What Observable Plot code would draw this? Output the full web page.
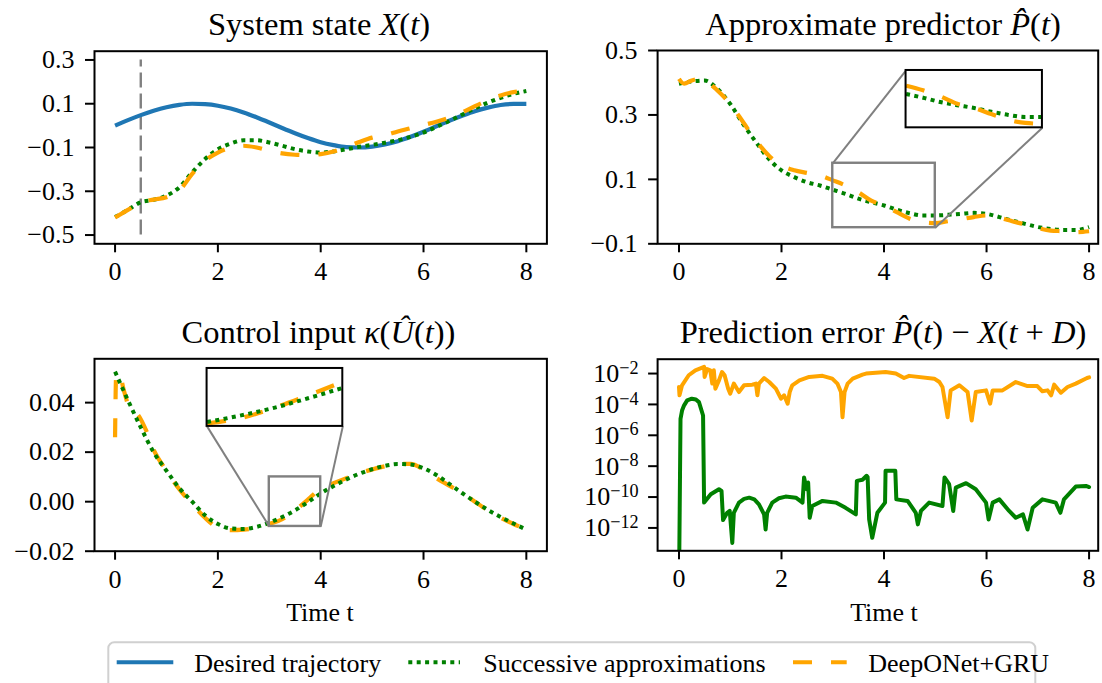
<!DOCTYPE html>
<html><head><meta charset="utf-8">
<script src="https://cdn.jsdelivr.net/npm/d3@7"></script>
<script src="https://cdn.jsdelivr.net/npm/@observablehq/plot@0.6"></script>
<style>
body{margin:0;background:#fff;}
#wrap{position:relative;width:1102px;height:683px;overflow:hidden;background:#fff;font-family:"Liberation Serif",serif;}
#wrap svg{position:absolute;}
#wrap svg text{font-family:"Liberation Serif","Times New Roman",serif !important;}
</style></head><body><div id="wrap"></div>
<script>
// ---------- data ----------
const tGrid = [0,0.25,0.5,0.75,1,1.25,1.5,1.75,2,2.25,2.5,2.75,3,3.25,3.5,3.75,4,4.25,4.5,4.75,5,5.25,5.5,5.75,6,6.25,6.5,6.75,7,7.25,7.5,7.75,8];
const xTicks = [0,2,4,6,8];

// Panel 1: system state X(t)
const p1Desired = [0,0.025,0.048,0.068,0.084,0.095,0.100,0.098,0.091,0.078,0.060,0.038,0.014,-0.011,-0.035,-0.057,-0.076,-0.089,-0.098,-0.100,-0.096,-0.086,-0.071,-0.051,-0.028,-0.003,0.022,0.045,0.066,0.082,0.094,0.099,0.099];
const p1Succ = [-0.418,-0.385,-0.350,-0.339,-0.320,-0.282,-0.214,-0.153,-0.108,-0.082,-0.067,-0.067,-0.077,-0.092,-0.108,-0.118,-0.123,-0.118,-0.108,-0.097,-0.088,-0.078,-0.067,-0.051,-0.032,-0.006,0.021,0.050,0.079,0.105,0.127,0.145,0.158];
const p1Deep = [-0.420,-0.385,-0.350,-0.338,-0.327,-0.297,-0.221,-0.160,-0.123,-0.100,-0.092,-0.100,-0.115,-0.127,-0.133,-0.135,-0.130,-0.118,-0.098,-0.075,-0.055,-0.044,-0.027,-0.012,0.003,0.018,0.036,0.060,0.089,0.115,0.138,0.153,0.161];
const p1Delay = [0.5];
const p1YTicks = [0.3,0.1,-0.1,-0.3,-0.5];

// Panel 2: approximate predictor
const p2Succ = [0.397,0.404,0.407,0.381,0.334,0.272,0.216,0.164,0.128,0.107,0.091,0.081,0.068,0.055,0.040,0.029,0.019,0.006,-0.005,-0.012,-0.012,-0.010,-0.007,-0.004,-0.007,-0.017,-0.028,-0.038,-0.048,-0.054,-0.057,-0.057,-0.048];
const tDeep2 = [0,0.1,0.25,0.4,0.5,0.75,1,1.25,1.5,1.75,2,2.25,2.5,2.75,3,3.25,3.5,3.75,4,4.25,4.5,4.75,5,5.25,5.5,5.75,6,6.25,6.5,6.75,7,7.25,7.5,7.75,8];
const p2Deep = [0.412,0.397,0.407,0.412,0.407,0.376,0.334,0.278,0.221,0.174,0.143,0.128,0.120,0.112,0.097,0.081,0.060,0.034,0.019,-0.002,-0.022,-0.033,-0.036,-0.030,-0.024,-0.017,-0.012,-0.019,-0.030,-0.040,-0.051,-0.059,-0.061,-0.064,-0.061];
const p2YTicks = [0.5,0.3,0.1,-0.1];
const p2ZoomX = [3,5], p2ZoomY = [-0.05,0.15];
const p2InsetX = [4.43,7.09], p2InsetY = [0.26,0.438];

// Panel 3: control input
const p3Succ = [0.0525,0.041,0.030,0.020,0.0125,0.0055,0.0,-0.0055,-0.009,-0.0108,-0.011,-0.0102,-0.0085,-0.0062,-0.0035,-0.0002,0.0033,0.0063,0.009,0.0113,0.0131,0.0145,0.0152,0.015,0.0135,0.0108,0.0072,0.0035,0.0,-0.0033,-0.0062,-0.0088,-0.0113];
const tDeep3 = [0,0.02,0.08,0.17,0.3,0.45,0.6,0.75,1,1.25,1.5,1.75,2,2.25,2.5,2.75,3,3.25,3.5,3.75,4,4.25,4.5,4.75,5,5.25,5.5,5.75,6,6.25,6.5,6.75,7,7.25,7.5,7.75,8];
const p3Deep = [0.026,0.050,0.052,0.045,0.037,0.035,0.029,0.021,0.0125,0.005,-0.001,-0.0065,-0.0105,-0.0115,-0.0113,-0.0105,-0.009,-0.0071,-0.0035,0.0008,0.0054,0.0075,0.0095,0.0115,0.013,0.0143,0.0152,0.0153,0.013,0.0095,0.0065,0.0035,0.0,-0.0035,-0.0065,-0.009,-0.0112];
const p3YTicks = [0.04,0.02,0.0,-0.02];
const p3ZoomX = [3,4], p3ZoomY = [-0.01,0.01];
const p3InsetX = [1.79,4.43], p3InsetY = [0.0304,0.0538];

// Panel 4: prediction error (log10 of |error|)
const tErrSucc = [0,0.03,0.06,0.1,0.16,0.25,0.33,0.39,0.47,0.49,0.62,0.78,0.83,0.86,0.94,0.99,1.04,1.07,1.17,1.27,1.37,1.47,1.56,1.66,1.69,1.72,1.82,1.95,2.08,2.28,2.41,2.44,2.49,2.52,2.55,2.6,2.8,3.06,3.25,3.45,3.47,3.58,3.66,3.68,3.71,3.77,3.87,4.02,4.03,4.22,4.24,4.46,4.62,4.66,4.72,4.88,5.14,5.18,5.27,5.35,5.4,5.6,5.79,5.99,6.04,6.12,6.25,6.44,6.57,6.71,6.8,6.9,7.09,7.35,7.44,7.51,7.74,7.94,8];
const errSuccLog10 = [-16,-4.93,-4.4,-4.06,-3.74,-3.63,-3.68,-3.85,-4.72,-10.36,-9.82,-9.49,-9.6,-11.49,-11.02,-10.9,-12.97,-11.02,-10.36,-10.12,-10.04,-10.15,-10.47,-11.12,-12.1,-11.02,-10.36,-10.08,-9.97,-10.04,-10.36,-8.73,-9.49,-9.06,-11.34,-10.58,-10.25,-10.36,-10.7,-11.12,-8.95,-8.88,-8.62,-8.7,-11.45,-12.64,-11.02,-10.36,-8.3,-8.3,-10.15,-10.25,-11.02,-11.77,-10.9,-10.36,-10.58,-8.73,-9.17,-10.9,-9.39,-9.1,-9.49,-10.36,-11.45,-10.36,-10.15,-10.9,-11.34,-11.12,-12.1,-10.69,-10.15,-10.36,-11.02,-10.15,-9.32,-9.28,-9.35];
const tErrDeep = [0,0.01,0.06,0.19,0.32,0.49,0.5,0.55,0.61,0.65,0.68,0.71,0.78,0.84,0.89,0.96,1.0,1.07,1.17,1.27,1.43,1.5,1.53,1.56,1.66,1.76,1.89,1.99,2.05,2.12,2.16,2.21,2.35,2.54,2.8,2.99,3.09,3.16,3.19,3.23,3.29,3.39,3.58,3.65,4.03,4.23,4.39,4.49,4.98,5.08,5.14,5.24,5.3,5.47,5.63,5.71,5.79,5.99,6.07,6.12,6.31,6.57,6.8,6.99,7.09,7.19,7.26,7.32,7.45,7.58,7.74,7.96,8.0];
const errDeepLog10 = [-2.87,-3.41,-2.76,-2.11,-1.79,-1.57,-2.22,-1.71,-1.79,-2.65,-1.79,-2.98,-2.44,-1.9,-2.11,-2.98,-3.3,-2.65,-3.2,-2.76,-2.72,-2.65,-3.41,-2.65,-2.29,-2.55,-2.98,-3.63,-3.41,-3.95,-3.2,-2.76,-2.44,-2.22,-2.15,-2.33,-2.65,-3.2,-4.83,-3.2,-2.65,-2.33,-2.07,-2.0,-1.9,-2.0,-2.29,-2.15,-2.33,-2.55,-2.87,-4.83,-3.09,-2.76,-3.2,-5.04,-3.2,-3.09,-3.95,-3.09,-3.09,-2.55,-2.81,-2.81,-3.15,-3.09,-3.41,-2.72,-3.24,-2.87,-2.65,-2.29,-2.25];
const p4YTicks = [1e-2,1e-4,1e-6,1e-8,1e-10,1e-12];

const legendLabels = ["Desired trajectory","Successive approximations","DeepONet+GRU"];
const C = {desired:"#1f77b4", succ:"#008000", deep:"#ffa500", gray:"#808080"};

// ---------- helpers ----------
const FONT = '"Liberation Serif", "Times New Roman", serif';
const rows = (ts, vs) => ts.map((t,i) => ({t, v: vs[i]}));
const DASH = "19,19", DOT = "4,4.4";
const line = (data, stroke, dash, extra={}) => Plot.line(data, {x:"t", y:"v", stroke, strokeWidth: dash===DOT?4:4.2, strokeDasharray: dash, strokeLinecap:"butt", strokeLinejoin:"round", curve:"monotone-x", ...extra});
function toInset(data, zx, zy, ix, iy) {
  return data.filter(d => d.t >= zx[0] && d.t <= zx[1]).map(d => ({
    t: ix[0] + (d.t - zx[0])/(zx[1]-zx[0])*(ix[1]-ix[0]),
    v: iy[0] + (d.v - zy[0])/(zy[1]-zy[0])*(iy[1]-iy[0])
  }));
}
function insetMarks(series, zx, zy, ix, iy, corners) {
  const marks = [
    Plot.rect([0], {x1: zx[0], x2: zx[1], y1: zy[0], y2: zy[1], fill:"none", stroke: C.gray, strokeWidth: 2.4}),
    Plot.link(corners, {x1: d=>d[0], y1: d=>d[1], x2: d=>d[2], y2: d=>d[3], stroke: C.gray, strokeWidth: 2}),
    Plot.rect([0], {x1: ix[0], x2: ix[1], y1: iy[0], y2: iy[1], fill:"white", stroke:"none"})
  ];
  series.forEach(([data, color, dash]) => marks.push(line(toInset(data, zx, zy, ix, iy), color, dash)));
  marks.push(Plot.rect([0], {x1: ix[0], x2: ix[1], y1: iy[0], y2: iy[1], fill:"none", stroke:"black", strokeWidth: 2}));
  return marks;
}
const wrap = document.getElementById("wrap");
function panel({left, top, width, height, mL, mR, mT, mB, xDomain, yDomain, yType="linear", yTicks, yFormat, marks, yPad=11}) {
  const svg = Plot.plot({
    width, height, marginLeft: mL, marginRight: mR, marginTop: mT, marginBottom: mB,
    style: {background: "transparent", overflow: "visible", color: "black"},
    x: {domain: xDomain},
    y: {domain: yDomain, type: yType},
    marks: [
      ...marks,
      Plot.frame({stroke:"black", strokeWidth: 2}),
      Plot.axisX({ticks: xTicks, tickSize: 9, tickPadding: 9, strokeWidth: 2, fontSize: 26, label: null, tickFormat: d => String(d)}),
      Plot.axisY({ticks: yTicks, tickSize: 9, tickPadding: yPad, strokeWidth: 2, fontSize: 26, label: null, tickFormat: yFormat})
    ]
  });
  svg.style.left = left + "px"; svg.style.top = top + "px";
  svg.style.setProperty("font-family", FONT, "important");
  svg.style.setProperty("font-size", "26px", "important");
  svg.querySelectorAll("g, text").forEach(el => el.style.setProperty("font-family", FONT, "important"));
  wrap.appendChild(svg);
  return svg;
}

// ---------- panel 1 ----------
panel({left:0, top:0, width:551, height:300, mL:94, mR:4.6, mT:50.7, mB:56.7,
  xDomain:[-0.4,8.4], yDomain:[-0.54,0.34], yTicks:p1YTicks, yFormat:d3.format(".1f"),
  marks:[
    Plot.ruleX(p1Delay, {y1:-0.5, y2:0.3, stroke:C.gray, strokeWidth:2.4, strokeDasharray:"15,6"}),
    line(rows(tGrid,p1Desired), C.desired, null),
    line(rows(tGrid,p1Succ), C.succ, DOT),
    line(rows(tGrid,p1Deep), C.deep, DASH)
  ]});

// ---------- panel 2 ----------
const p2s = rows(tGrid,p2Succ), p2d = rows(tDeep2,p2Deep);
panel({left:551, top:0, width:551, height:300, mL:106.1, mR:4.3, mT:50, mB:56.7,
  xDomain:[-0.417,8.178], yDomain:[-0.1,0.5], yTicks:p2YTicks, yFormat:d3.format(".1f"),
  marks:[
    line(p2s, C.succ, DOT),
    line(p2d, C.deep, DASH),
    ...insetMarks([[p2s,C.succ,DOT],[p2d,C.deep,DASH]], p2ZoomX, p2ZoomY, p2InsetX, p2InsetY,
      [[p2InsetX[0],p2InsetY[1],p2ZoomX[0],p2ZoomY[1]],[p2InsetX[1],p2InsetY[0],p2ZoomX[1],p2ZoomY[0]]])
  ]});

// ---------- panel 3 ----------
const p3s = rows(tGrid,p3Succ), p3d = rows(tDeep3,p3Deep);
panel({left:0, top:300, width:551, height:330, mL:94, mR:4.6, mT:58.3, mB:79.3,
  xDomain:[-0.4,8.4], yDomain:[-0.02,0.0577], yTicks:p3YTicks, yFormat:d3.format(".2f"),
  marks:[
    line(p3d, C.deep, DASH),
    line(p3s, C.succ, DOT),
    ...insetMarks([[p3d,C.deep,DASH],[p3s,C.succ,DOT]], p3ZoomX, p3ZoomY, p3InsetX, p3InsetY,
      [[p3InsetX[0],p3InsetY[0],p3ZoomX[0],p3ZoomY[0]],[p3InsetX[1],p3InsetY[0],p3ZoomX[1],p3ZoomY[0]]])
  ]});

// ---------- panel 4 ----------
const p4svg = panel({left:551, top:300, width:551, height:330, mL:106.1, mR:4.3, mT:58.7, mB:79.7,
  xDomain:[-0.417,8.178], yDomain:[3.3e-14,0.085], yType:"log", yTicks:p4YTicks, yPad:10,
  yFormat: d => "10^" + Math.round(Math.log10(d)),
  marks:[
    Plot.line(rows(tErrDeep, errDeepLog10.map(e => 10**e)), {x:"t", y:"v", stroke:C.deep, strokeWidth:4, strokeLinejoin:"round", clip:true}),
    Plot.line(rows(tErrSucc, errSuccLog10.map(e => 10**e)), {x:"t", y:"v", stroke:C.succ, strokeWidth:4, strokeLinejoin:"round", clip:true})
  ]});
p4svg.querySelectorAll("text").forEach(el => {
  const s = el.textContent;
  if (s.startsWith("10^")) {
    const ex = s.slice(3).replace("-", "\u2212");
    el.textContent = "10";
    const ts = document.createElementNS("http://www.w3.org/2000/svg","tspan");
    ts.setAttribute("dy","-0.45em"); ts.setAttribute("font-size","0.7em");
    ts.textContent = ex;
    el.appendChild(ts);
  }
});

// ---------- titles, axis labels, legend ----------
const ov = d3.select(wrap).append("svg").attr("width",1102).attr("height",683)
  .style("left","0px").style("top","0px").style("font-family",FONT);
function rich(x, y, size, parts) {
  const t = ov.append("text").attr("x",x).attr("y",y).attr("text-anchor","middle").style("font-size",size+"px");
  parts.forEach(([s,it]) => t.append("tspan").text(s).style("font-style", it?"italic":"normal"));
}
rich(319, 35, 32.5, [["System state ",0],["X",1],["(",0],["t",1],[")",0]]);
rich(883, 35, 32.5, [["Approximate predictor ",0],["P\u0302",1],["(",0],["t",1],[")",0]]);
rich(318.5, 342.7, 32.5, [["Control input ",0],["\u03ba",1],["(",0],["\u00db",1],["(",0],["t",1],["))",0]]);
rich(883, 342.7, 32.5, [["Prediction error ",0],["P\u0302",1],["(",0],["t",1],[") \u2212 ",0],["X",1],["(",0],["t",1],[" + ",0],["D",1],[")",0]]);
rich(320, 620.7, 26, [["Time t",0]]);
rich(884, 620.7, 26, [["Time t",0]]);

const lg = ov.append("g");
lg.append("rect").attr("x",108.3).attr("y",642.3).attr("width",927).attr("height",60).attr("rx",6)
  .attr("fill","white").attr("stroke","#d0d0d0").attr("stroke-width",2);
const items = [
  {x0:116.7, x1:173.3, tx:194.3, color:C.desired, dash:null},
  {x0:408.3, x1:460, tx:483.3, color:C.succ, dash:DOT},
  {x0:793, x1:846.7, tx:868.3, color:C.deep, dash:DASH}
];
items.forEach((it,i) => {
  lg.append("line").attr("x1",it.x0).attr("x2",it.x1).attr("y1",662.3).attr("y2",662.3)
    .attr("stroke",it.color).attr("stroke-width",4).attr("stroke-dasharray",it.dash);
  lg.append("text").attr("x",it.tx).attr("y",671.7).style("font-size","26px").text(legendLabels[i]);
});
</script></body></html>
